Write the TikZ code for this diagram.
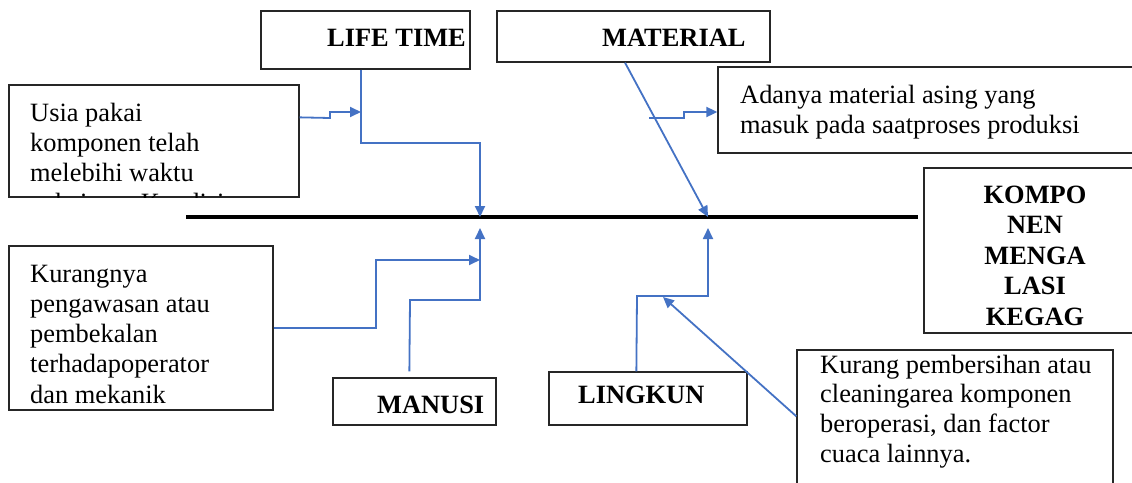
\documentclass[tikz,border=0pt]{standalone}
\usepackage{fontspec}
\setmainfont{Liberation Serif}
\usetikzlibrary{arrows.meta,fit,calc}
\definecolor{connblue}{RGB}{68,114,196}
\tikzset{
  box/.style={draw=black!85, line width=1.3pt, inner sep=0pt, rectangle},
  txt/.style={inner sep=0pt, anchor=base west, font=\fontsize{26.4}{30}\selectfont},
  btxt/.style={inner sep=0pt, anchor=base west, font=\fontsize{26.4}{30}\selectfont\bfseries},
  ctxt/.style={inner sep=0pt, anchor=base, font=\fontsize{26.4}{30}\selectfont\bfseries},
  spine/.style={draw=black, line width=4pt},
  conn/.style={draw=connblue, line width=1.8pt},
  arr/.style={conn, -{Triangle[length=11pt,width=10pt]}},
}
\newcommand{\mlines}[2]{\vtop{\baselineskip=#1\relax\lineskiplimit=-100pt #2}}
\begin{document}
\begin{tikzpicture}[x=1pt,y=-1pt]
\useasboundingbox (0,0) rectangle (1132,482);
\clip (0,0) rectangle (1132,482);
% boxes
\node[box, fit={(9,85)(299,197)}] (usia) {};
\node[box, fit={(261,11)(470,69)}] (life) {};
\node[box, fit={(497,11)(770,62)}] (mat) {};
\node[box, fit={(718,67)(1134,153)}] (adanya) {};
\node[box, fit={(924,168)(1134,333)}] (kompo) {};
\node[box, fit={(9,246)(273,410)}] (kurang) {};
\node[box, fit={(333,378)(496,425)}] (manusi) {};
\node[box, fit={(549,372)(747,425)}] (lingkun) {};
\node[box, fit={(797,350)(1113,495)}] (kurangB) {};
% texts
\begin{scope}
\clip (usia.north west) rectangle (usia.south east);
\node[txt] (tusia) at (30,121) {\mlines{30pt}{\hbox{Usia pakai}\hbox{komponen telah}\hbox{melebihi waktu}\hbox{pakainya. Kondisi}}};
\end{scope}
\node[btxt] (tlife) at (327,46) {LIFE TIME};
\node[btxt] (tmat) at (602,46) {MATERIAL};
\node[txt] (tadanya) at (740,103) {\mlines{30pt}{\hbox{Adanya material asing yang}\hbox{masuk pada saatproses produksi}}};
\node[ctxt] (tkompo) at (1035,203) {\mlines{30.5pt}{\halign{\hfil#\hfil\cr KOMPO\cr NEN\cr MENGA\cr LASI\cr KEGAG\cr}}};
\node[txt] (tkurang) at (30,282) {\mlines{30.3pt}{\hbox{Kurangnya}\hbox{pengawasan atau}\hbox{pembekalan}\hbox{terhadapoperator}\hbox{dan mekanik}}};
\node[btxt] (tmanusi) at (377,413) {MANUSI};
\node[btxt] (tlingkun) at (578,403) {LINGKUN};
\node[txt] (tkurangB) at (820,373) {\mlines{29.7pt}{\hbox{Kurang pembersihan atau}\hbox{cleaningarea komponen}\hbox{beroperasi, dan factor}\hbox{cuaca lainnya.}}};
% spine
\coordinate (sL) at (186,217);
\coordinate (sR) at (918,217);
\coordinate (jL) at (480,217);
\coordinate (jR) at (708,217);
\draw[spine] (sL) -- (sR);
% connectors
\draw[arr] ($(life.south)+(-4.5,0)$) -- (361,143) -- (480,143) -- (jL);
\draw[arr] ($(usia.north east)+(0,33)$) -- (330,118) -- (330,112) -- (361,112);
\draw[arr] ($(mat.south)+(-8.5,0)$) -- (jR);
\draw[arr] (649,118) -- (684,118) -- (684,112) -- ($(adanya.west)+(0,2)$);
\draw[arr] (kurang.east) -- (376,328) -- (376,260) -- (480,260);
\draw[arr] ($(manusi.north west)+(77,-6)$) -- (410,300) -- (480,300) -- (480,228);
\draw[arr] ($(lingkun.north west)+(88,0)$) -- (637,296) -- (708,296) -- (708,228);
\draw[arr] ($(kurangB.north west)+(0,67)$) -- (663,297);
\end{tikzpicture}
\end{document}
